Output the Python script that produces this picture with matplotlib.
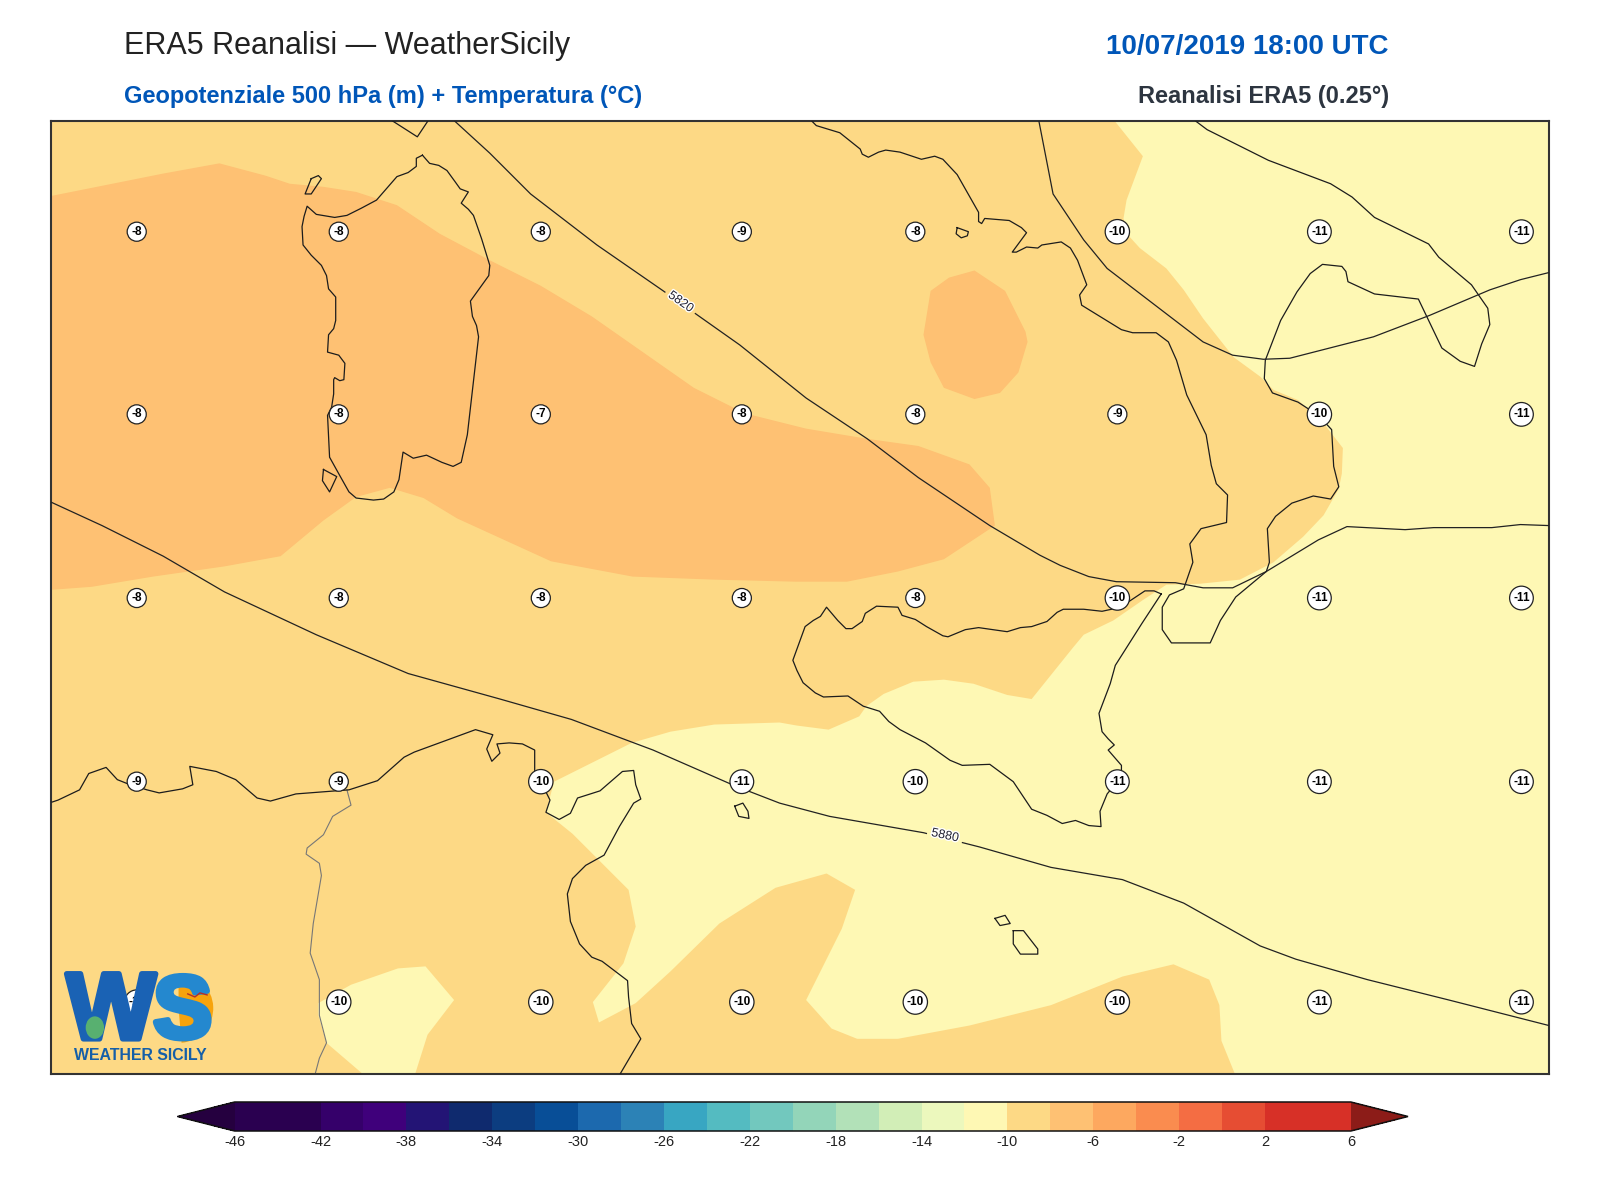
import matplotlib
matplotlib.use("Agg")
import matplotlib.pyplot as plt
import matplotlib.patheffects as pe
from matplotlib.colors import ListedColormap, BoundaryNorm
from matplotlib.cm import ScalarMappable
from matplotlib.patches import Ellipse, Wedge

plt.rcParams['font.family'] = ['Liberation Sans', 'DejaVu Sans']
plt.rcParams['axes.unicode_minus'] = False

# colour scale
levels = list(range(-46, 8, 2))
tick_levels = list(range(-46, 10, 4))
level_colors = ['#2a0050', '#2a0050', '#35006a', '#3f007b', '#231475', '#0f2a6e', '#0c3d80', '#084e97',
                '#1c69ae', '#2c82b6', '#38a6c2', '#54bbc1', '#72c8be', '#93d5b9', '#b2e1b8', '#d2eeb7',
                '#ecf8bd', '#fef8b4', '#fdd985', '#fec173', '#fda85f', '#fa8c4f', '#f46d43', '#e64d33',
                '#d73027', '#d73027']
under_color = '#25003f'
over_color = '#8c1c18'

# field bands traced on the map (map x, map y)
warm_band = [(50, 192), (110, 180), (160, 170), (215, 160), (260, 172), (284, 180), (317, 183), (349, 188), (389, 201),
             (431, 229), (480, 255), (530, 280), (580, 310), (630, 345), (680, 380), (730, 405), (790, 420),
             (850, 430), (900, 437), (950, 455), (970, 478), (975, 515), (925, 548), (880, 560), (830, 570),
             (780, 570), (700, 568), (620, 565), (540, 550), (448, 508), (415, 488), (382, 478), (349, 487),
             (317, 510), (275, 545), (220, 555), (150, 565), (90, 575), (50, 578)]
warm_spot = [(955, 265), (985, 285), (1005, 325), (1007, 335), (998, 365), (980, 385), (955, 391), (925, 380),
             (912, 355), (905, 328), (912, 285), (930, 272)]
cool_main = [(1092, 118), (1120, 153), (1104, 196), (1101, 214), (1107, 232), (1117, 243), (1143, 263), (1160, 284),
             (1179, 312), (1209, 350), (1235, 369), (1248, 382), (1272, 392), (1295, 412), (1316, 439), (1315, 464),
             (1312, 479), (1297, 505), (1277, 526), (1248, 551), (1215, 568), (1176, 572), (1143, 573), (1120, 588),
             (1091, 608), (1062, 622), (1052, 634), (1011, 685), (987, 681), (954, 670), (925, 666), (895, 668),
             (866, 680), (849, 692), (842, 702), (812, 715), (781, 711), (764, 708), (700, 710), (657, 717),
             (619, 728), (543, 766), (535, 796), (561, 817), (616, 872), (623, 908), (611, 944), (581, 982),
             (587, 1002), (623, 983), (657, 952), (705, 905), (760, 870), (810, 856),
             (838, 872), (825, 910), (805, 950), (790, 980), (815, 1008), (840, 1018), (880, 1018),
             (950, 1005), (1030, 985), (1100, 957), (1150, 945), (1185, 960), (1195, 985), (1197, 1020),
             (1210, 1052), (1518, 1052), (1518, 118)]
cool_patch = [(312, 983), (344, 965), (390, 949), (417, 947), (445, 980), (419, 1014), (407, 1052), (355, 1052),
              (320, 1022), (312, 995)]

# coastlines
sardinia = [(414, 152), (408, 155), (408, 163), (400, 169), (389, 173), (369, 196), (354, 204), (340, 211), (328, 213),
            (310, 210), (301, 202), (298, 212), (296, 222), (297, 240), (305, 250), (315, 260), (320, 270), (322, 283),
            (329, 291), (329, 314), (327, 322), (322, 328), (321, 345), (332, 348), (338, 356), (337, 372), (333, 373),
            (328, 370), (327, 372), (327, 386), (325, 399), (321, 407), (323, 448), (333, 466), (342, 482), (349, 488),
            (366, 490), (376, 489), (386, 482), (391, 470), (395, 443), (405, 449), (418, 446), (433, 453), (444, 457),
            (452, 453), (458, 426), (469, 330), (467, 319), (463, 310), (461, 295), (479, 270), (480, 260), (472, 234),
            (464, 211), (459, 205), (452, 199), (459, 188), (451, 185), (446, 178), (438, 167), (430, 162), (421, 160),
            (414, 152)]
asinara = [(305, 175), (312, 172), (315, 175), (305, 190), (299, 190), (305, 175)]
san_pietro = [(317, 460), (330, 467), (323, 482), (316, 471), (317, 460)]
corsica = [(384, 118), (409, 134), (419, 119)]
italy = [(795, 118), (800, 123), (823, 130), (843, 146), (845, 151), (851, 154), (861, 149), (868, 147), (882, 149),
         (903, 156), (916, 153), (924, 156), (938, 171), (959, 208), (959, 217), (962, 219), (965, 214), (989, 216),
         (1001, 223), (1006, 228), (992, 247), (996, 247), (1006, 242), (1017, 243), (1021, 240), (1040, 237),
         (1049, 243), (1056, 255), (1065, 279), (1058, 289), (1060, 299), (1099, 323), (1110, 326), (1133, 326),
         (1145, 335), (1153, 353), (1163, 387), (1182, 426), (1187, 456), (1192, 474), (1203, 485), (1202, 512),
         (1177, 518), (1166, 533), (1169, 551), (1160, 577), (1146, 583), (1139, 595), (1139, 617), (1148, 630),
         (1186, 630), (1196, 608), (1211, 585), (1241, 560), (1244, 551), (1242, 518), (1250, 506), (1266, 493),
         (1287, 486), (1304, 489), (1312, 477), (1307, 457), (1305, 421), (1292, 407), (1272, 394), (1247, 385),
         (1239, 371), (1240, 353), (1255, 314), (1271, 286), (1284, 268), (1296, 259), (1315, 261), (1319, 266),
         (1321, 276), (1347, 288), (1390, 293), (1413, 341), (1431, 354), (1445, 359), (1452, 337), (1460, 318),
         (1458, 302), (1442, 279), (1410, 252), (1400, 239), (1347, 213), (1325, 193), (1304, 180), (1243, 157),
         (1183, 127), (1171, 118)]
capri = [(938, 223), (949, 227), (948, 231), (942, 233), (937, 229), (938, 223)]
sicily = [(1138, 582), (1131, 579), (1122, 579), (1107, 589), (1094, 596), (1080, 599), (1062, 597), (1042, 597),
          (1036, 600), (1026, 609), (1011, 614), (1000, 615), (987, 619), (959, 615), (946, 617), (929, 624), (924, 623),
          (908, 614), (897, 607), (884, 603), (880, 595), (859, 594), (848, 601), (845, 609), (835, 616), (829, 616),
          (821, 608), (810, 595), (804, 604), (797, 608), (789, 614), (777, 647), (781, 657), (787, 669), (799, 679),
          (807, 683), (831, 682), (846, 692), (862, 697), (871, 707), (882, 715), (907, 728), (931, 745), (943, 750),
          (970, 749), (993, 766), (1011, 793), (1026, 799), (1041, 807), (1054, 804), (1067, 809), (1079, 810),
          (1078, 795), (1085, 778), (1099, 761), (1099, 750), (1086, 735), (1092, 730), (1086, 724), (1080, 717),
          (1077, 699), (1088, 670), (1093, 652), (1119, 611), (1138, 582)]
africa = [(51, 786), (57, 784), (78, 774), (87, 758), (104, 752), (115, 764), (125, 768), (144, 774), (156, 777),
          (179, 773), (189, 769), (186, 751), (212, 756), (231, 764), (252, 782), (265, 785), (290, 778), (342, 774),
          (370, 765), (396, 742), (406, 737), (466, 715), (483, 720), (477, 734), (482, 746), (490, 738), (487, 729),
          (499, 728), (512, 729), (524, 735), (524, 755), (531, 768), (539, 784), (535, 796), (548, 803), (559, 797),
          (566, 782), (588, 775), (610, 756), (621, 755), (623, 769), (628, 783), (621, 787), (607, 810), (592, 838),
          (574, 848), (561, 861), (556, 876), (559, 903), (568, 925), (580, 938), (590, 942), (615, 961), (616, 977),
          (619, 1003), (628, 1018), (608, 1052)]
pantelleria = [(720, 790), (728, 787), (733, 795), (734, 802), (724, 800), (720, 790)]
gozo = [(975, 900), (985, 897), (990, 905), (980, 907), (975, 900)]
malta = [(993, 912), (1003, 912), (1017, 930), (1017, 935), (1000, 935), (993, 925), (993, 912)]
coast_lines = [sardinia, asinara, san_pietro, corsica, italy, capri, sicily, africa, pantelleria, gozo, malta]
border = [(340, 774), (344, 789), (326, 800), (317, 818), (301, 831), (300, 837), (313, 846), (315, 858), (307, 905),
          (304, 934), (313, 960), (313, 995), (320, 1022), (313, 1037), (309, 1052)]

# 500 hPa height contours
height_5820 = [(445, 118), (480, 150), (520, 190), (585, 240), (650, 285), (725, 338), (790, 390), (850, 430),
               (900, 468), (970, 515), (1019, 544), (1039, 554), (1067, 565), (1094, 570), (1152, 571), (1179, 576),
               (1208, 576), (1241, 560), (1292, 529), (1320, 516), (1377, 519), (1405, 517), (1462, 517), (1490, 514),
               (1518, 515)]
height_5760 = [(1018, 118), (1032, 190), (1062, 235), (1085, 263), (1179, 335), (1208, 348), (1238, 352), (1264, 351),
               (1303, 341), (1346, 330), (1401, 309), (1460, 284), (1490, 274), (1518, 267)]
height_5880 = [(50, 492), (100, 515), (160, 545), (220, 580), (310, 622), (400, 660), (490, 685), (560, 705),
               (640, 735), (720, 770), (764, 787), (813, 800), (905, 816), (960, 830), (1030, 850), (1100, 862),
               (1160, 885), (1235, 927), (1270, 940), (1340, 960), (1420, 980), (1518, 1005)]

# temperature values shown on the map
grid_x = [134, 332, 530, 727, 897, 1095, 1293, 1491]
grid_y = [227, 406, 586, 766, 982]
grid_values = [[-8, -8, -8, -9, -8, -10, -11, -11],
               [-8, -8, -7, -8, -8, -9, -10, -11],
               [-8, -8, -8, -8, -8, -10, -11, -11],
               [-9, -9, -10, -11, -10, -11, -11, -11],
               [-10, -10, -10, -10, -10, -10, -11, -11]]

bird = [(184, 974), (191, 977), (196, 973), (203, 975)]


def main():
    fig = plt.figure(figsize=(16, 12), dpi=100)
    ax = fig.add_axes([51 / 1600, 1 - 1073.5 / 1200, 1498 / 1600, 953 / 1200])
    ax.set_xlim(50, 1518)
    ax.set_ylim(1052, 118)
    ax.set_xticks([])
    ax.set_yticks([])
    ax.set_facecolor('#fdd985')
    for spine in ax.spines.values():
        spine.set_linewidth(1.5)
        spine.set_color('#333333')

    for band, col in [(warm_band, '#fec173'), (warm_spot, '#fec173'), (cool_main, '#fef8b4'), (cool_patch, '#fef8b4')]:
        ax.fill([p[0] for p in band], [p[1] for p in band], color=col, lw=0, zorder=1)

    ax.plot([p[0] for p in border], [p[1] for p in border], color='#777777', lw=0.8, zorder=2)
    for line in coast_lines:
        ax.plot([p[0] for p in line], [p[1] for p in line], color='#1c1c1c', lw=0.9, zorder=3)
    for line in [height_5820, height_5760, height_5880]:
        ax.plot([p[0] for p in line], [p[1] for p in line], color='#222222', lw=0.9, zorder=3)

    halo = [pe.withStroke(linewidth=2, foreground='white')]
    ax.text(667, 296, '5820', rotation=-35, rotation_mode='anchor', ha='center', va='center', fontsize=9,
            color='#222233', path_effects=halo, zorder=4,
            bbox=dict(facecolor='#fdd985', edgecolor='none', pad=3))
    ax.text(926, 819, '5880', rotation=-12, rotation_mode='anchor', ha='center', va='center', fontsize=9,
            color='#222233', path_effects=halo, zorder=4,
            bbox=dict(facecolor='#fef8b4', edgecolor='none', pad=3))

    for row, y in zip(grid_values, grid_y):
        for val, x in zip(row, grid_x):
            ax.text(x, y, str(val), ha='center', va='center', fontsize=8.5, fontweight='bold', color='black', zorder=5,
                    bbox=dict(boxstyle='circle,pad=0.3', facecolor='white', edgecolor='#222222', linewidth=0.9))

    # logo
    ax.add_patch(Wedge((175, 988), 34, -90, 85, facecolor='#f7a30c', edgecolor='none', zorder=6))
    ax.text(109, 1018, 'W', ha='center', va='baseline', fontsize=68, fontweight='bold', color='#1a62b4', zorder=7,
            path_effects=[pe.withStroke(linewidth=4, foreground='#1a62b4')])
    ax.text(179, 1017, 'S', ha='center', va='baseline', fontsize=64, fontweight='bold', color='#2488cf', zorder=7,
            path_effects=[pe.withStroke(linewidth=4, foreground='#2488cf')])
    ax.add_patch(Ellipse((93, 1007), 18, 22, facecolor='#58b070', edgecolor='none', zorder=8))
    ax.plot([p[0] for p in bird], [p[1] for p in bird], color='#b03030', lw=1, zorder=8)
    ax.text(138, 1039, 'WEATHER SICILY', ha='center', va='baseline', fontsize=11.4, fontweight='bold',
            color='#155fa8', zorder=7)

    fig.text(124 / 1600, 1 - 54 / 1200, 'ERA5 Reanalisi \u2014 WeatherSicily', fontsize=22, color='#222222')
    fig.text(124 / 1600, 1 - 103 / 1200, 'Geopotenziale 500 hPa (m) + Temperatura (\u00b0C)', fontsize=17,
             fontweight='bold', color='#0056b8')
    fig.text(1389 / 1600, 1 - 54 / 1200, '10/07/2019 18:00 UTC', fontsize=20, fontweight='bold', color='#0056b8',
             ha='right')
    fig.text(1389 / 1600, 1 - 103 / 1200, 'Reanalisi ERA5 (0.25\u00b0)', fontsize=17, fontweight='bold',
             color='#2d3540', ha='right')

    cmap = ListedColormap(level_colors)
    cmap.set_under(under_color)
    cmap.set_over(over_color)
    norm = BoundaryNorm(levels, cmap.N)
    cax = fig.add_axes([177.5 / 1600, 1 - 1131 / 1200, 1230.5 / 1600, 29 / 1200])
    cb = fig.colorbar(ScalarMappable(norm=norm, cmap=cmap), cax=cax, orientation='horizontal', extend='both',
                      extendfrac=0.0512, ticks=tick_levels, drawedges=False, spacing='proportional')
    cb.ax.minorticks_off()
    cb.ax.set_xticks(tick_levels)
    cb.ax.set_xticklabels([str(t) for t in tick_levels])
    cb.ax.tick_params(length=0, labelsize=10.5, pad=3, labelcolor='#222222')
    cb.outline.set_linewidth(1.1)
    cb.outline.set_edgecolor('#111111')

    fig.savefig('out.png', dpi=100)


if __name__ == "__main__":
    main()
